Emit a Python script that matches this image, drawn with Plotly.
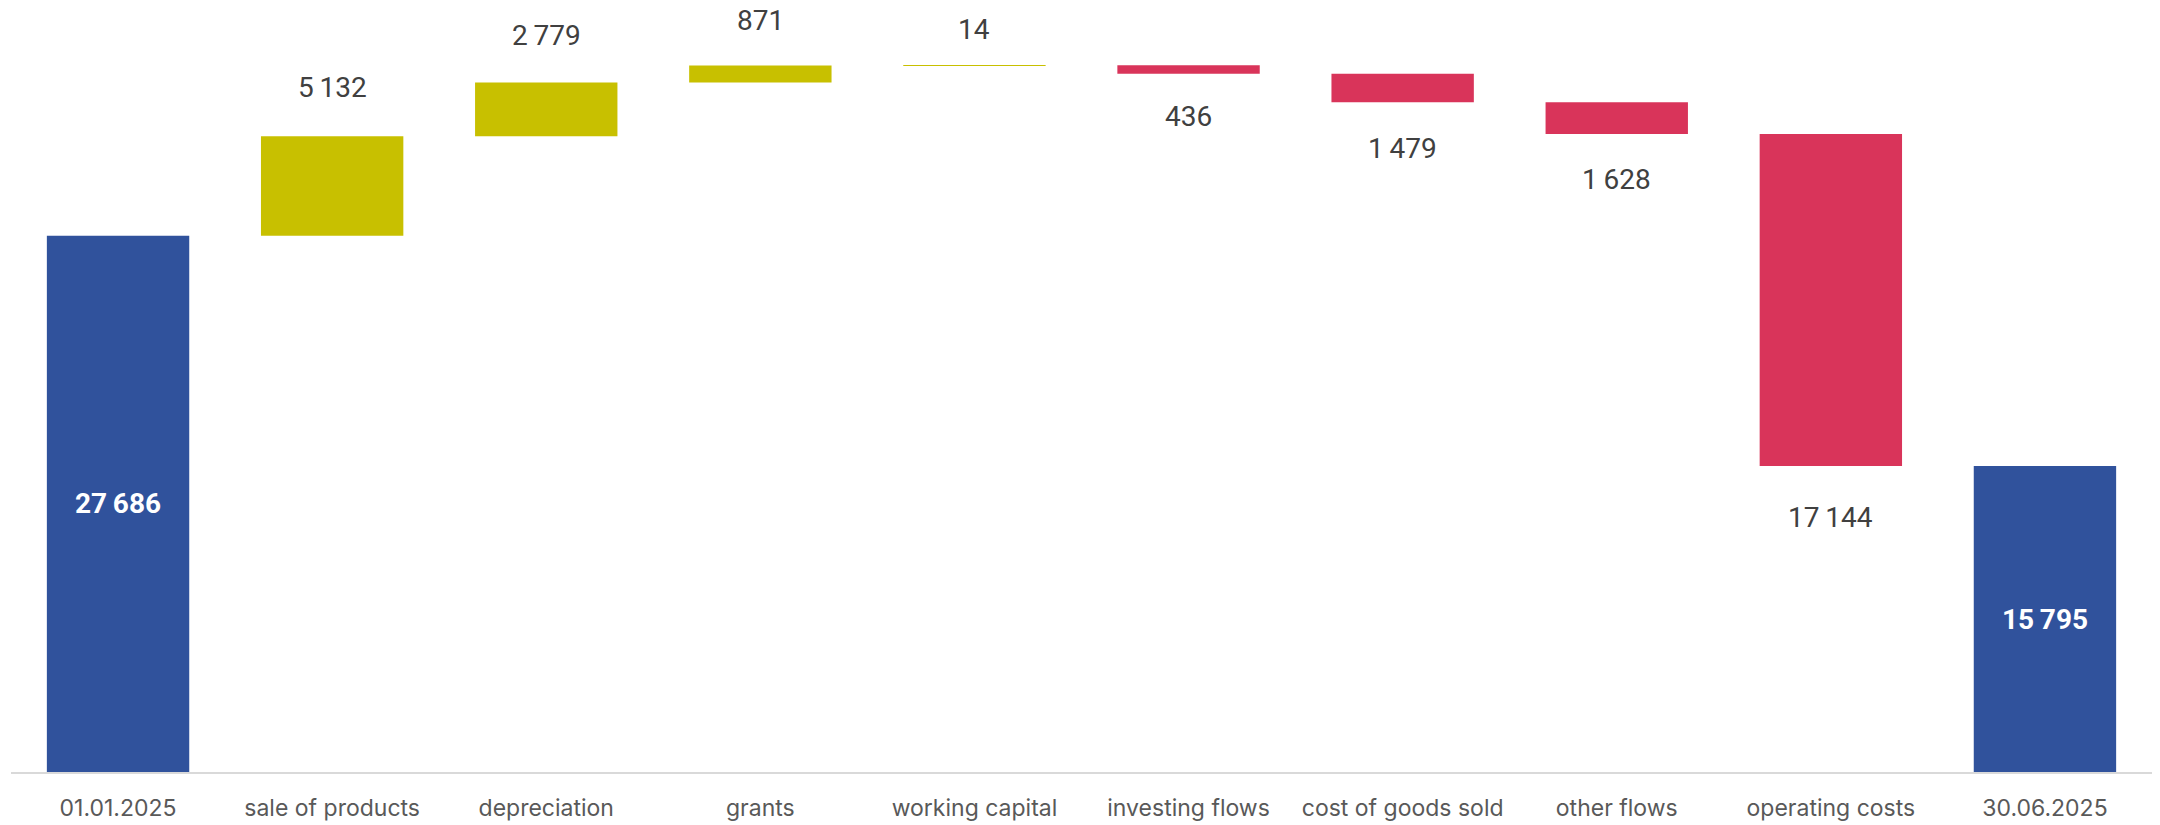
import math
import plotly.graph_objects as go

categories = ["01.01.2025", "sale of products", "depreciation", "grants", "working capital",
              "investing flows", "cost of goods sold", "other flows", "operating costs", "30.06.2025"]
values = [27686, 5132, 2779, 871, 14, -436, -1479, -1628, -17144, 15795]
measures = ["absolute", "relative", "relative", "relative", "relative",
            "relative", "relative", "relative", "relative", "total"]

BLUE = "#30529C"
OLIVE = "#C8C000"
RED = "#D9345A"

def fmt(v):
    return f"{abs(v):,}".replace(",", "\u2009")

fig = go.Figure(go.Waterfall(
    x=categories, y=values, measure=measures,
    increasing=dict(marker=dict(color=OLIVE, line=dict(width=0))),
    decreasing=dict(marker=dict(color=RED, line=dict(width=0))),
    totals=dict(marker=dict(color=BLUE, line=dict(width=0))),
    connector=dict(visible=False),
    hoverinfo="skip",
))

annotations = []
cum = 0
for cat, v, m in zip(categories, values, measures):
    if m == "absolute":
        cum = v
        annotations.append(dict(x=cat, y=v / 2, text=f"<b>{fmt(v)}</b>", showarrow=False,
                                font=dict(family="Roboto", size=28, color="white")))
    elif m == "total":
        annotations.append(dict(x=cat, y=cum / 2, text=f"<b>{fmt(cum)}</b>", showarrow=False,
                                font=dict(family="Roboto", size=28, color="white")))
    else:
        cum += v
        shift = 30 + 5 * math.log10(abs(v))
        annotations.append(dict(x=cat, y=cum, text=fmt(v), showarrow=False,
                                yshift=shift if v > 0 else -shift,
                                font=dict(family="Roboto", size=28, color="#404040")))

fig.update_layout(
    width=2160, height=825,
    margin=dict(l=11, r=8, t=0, b=53),
    plot_bgcolor="white", paper_bgcolor="white",
    waterfallgap=0.335,
    showlegend=False,
    annotations=annotations,
    xaxis=dict(showline=True, linecolor="#d9d9d9", linewidth=2, ticks="",
               tickfont=dict(family="Inter", size=23, color="#595959"),
               showgrid=False, zeroline=False, ticklabelstandoff=14),
    yaxis=dict(visible=False, range=[0, 39850], showgrid=False, zeroline=False),
)

fig.write_html("out.html")
